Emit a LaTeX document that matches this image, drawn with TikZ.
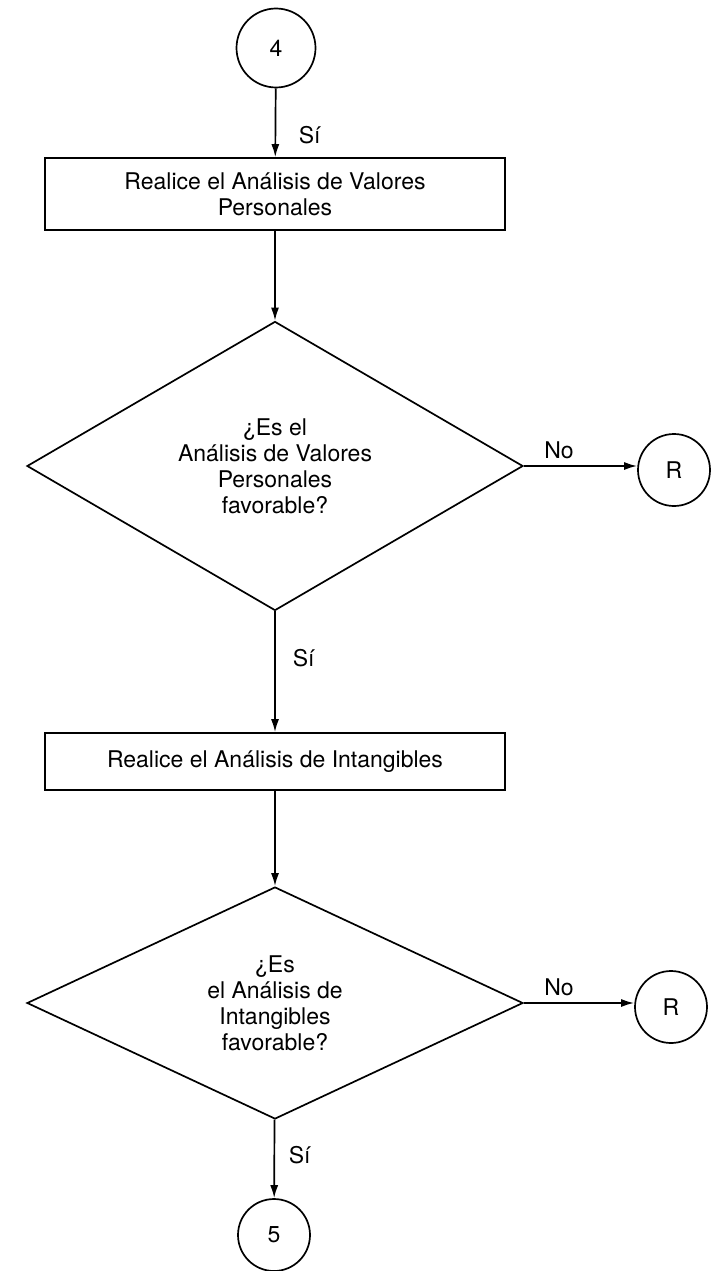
\documentclass[tikz,border=0pt]{standalone}
\usepackage{fontspec}
\setmainfont{TeX Gyre Heros}
\usetikzlibrary{arrows.meta,shapes.geometric}
\begin{document}
\begin{tikzpicture}[x=1pt,y=-1pt,
  line width=1.7pt,
  font=\fontsize{23}{26}\selectfont,
  conn/.style={circle,draw,minimum size=72pt,inner sep=0pt},
  procbox/.style={draw,minimum width=460pt,align=center,inner sep=0pt},
  decision/.style={diamond,draw,inner sep=0pt,align=center,minimum width=496pt},
  flow/.style={-{Latex[length=13pt,width=8pt]}},
  lbl/.style={inner sep=0pt}]
\useasboundingbox (0,0) rectangle (719,1271);

% main column
\node[conn,minimum size=79pt] (c4) at (276,48) {4};
\node[procbox,minimum height=72pt] (b1) at (275,194) {Realice el Análisis de Valores\\Personales};
\node[decision,minimum height=228pt] (d1) at (275,466)
  {¿Es el\\Análisis de Valores\\Personales\\favorable?};
\node[conn] (r1) at (674,470) {R};
\node[procbox,minimum height=57pt] (b2) at (275,761.5) {Realice el Análisis de Intangibles};
\node[decision,minimum height=232pt] (d2) at (275,1003)
  {¿Es\\el Análisis de\\Intangibles\\favorable?};
\node[conn] (r2) at (671,1007) {R};
\node[conn] (c5) at (274,1235) {5};

% connectors
\draw[flow] (c4) -- (b1);
\draw[flow] (b1) -- (d1);
\draw[flow] (d1.east) -- (r1.west |- d1.east);
\draw[flow] (d1) -- (b2);
\draw[flow] (b2) -- (d2);
\draw[flow] (d2.east) -- (r2.west |- d2.east);
\draw[flow] (d2) -- (c5);

% branch labels
\node[lbl,anchor=west] (s1) at (298,135) {Sí};
\node[lbl] (n1) at (559,450) {No};
\node[lbl,anchor=west] (s2) at (292,658) {Sí};
\node[lbl] (n2) at (559,987) {No};
\node[lbl,anchor=west] (s3) at (288,1155) {Sí};
\end{tikzpicture}
\end{document}
